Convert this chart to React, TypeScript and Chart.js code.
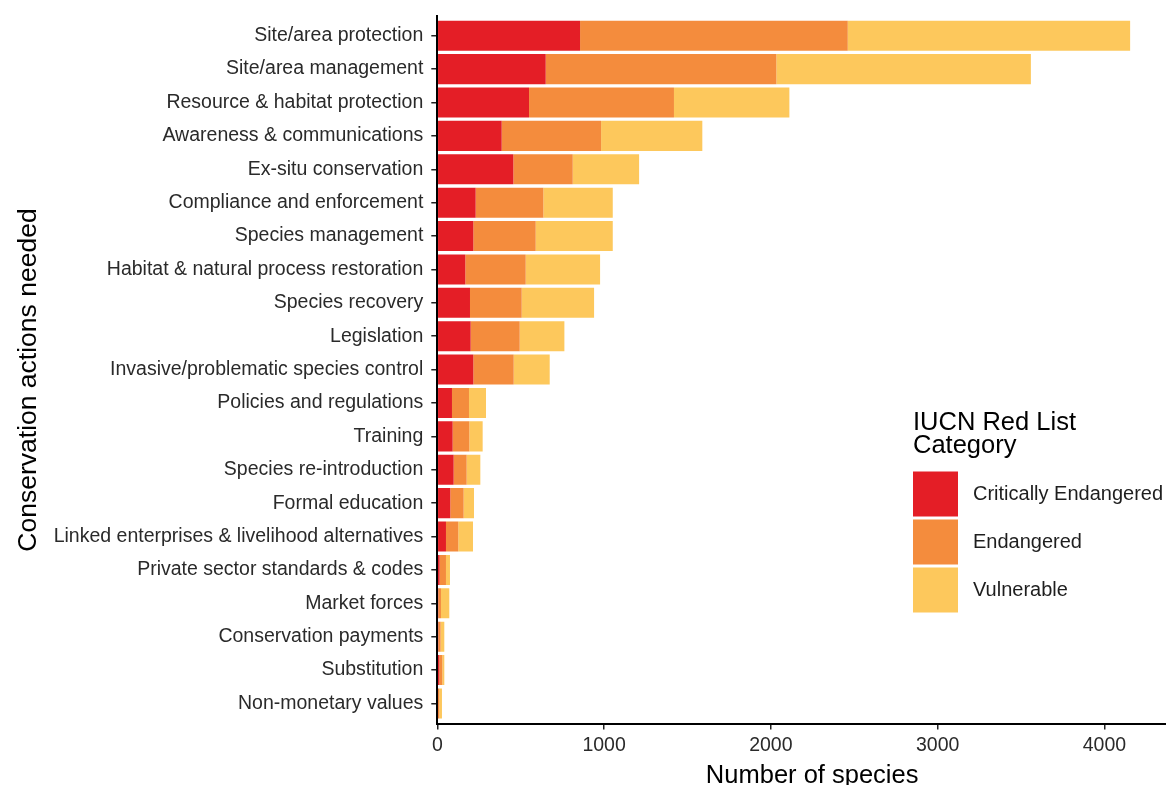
import React, { useEffect, useRef } from "react";
import { Chart, registerables } from "chart.js";

Chart.register(...registerables);

const categories = [
  "Site/area protection",
  "Site/area management",
  "Resource & habitat protection",
  "Awareness & communications",
  "Ex-situ conservation",
  "Compliance and enforcement",
  "Species management",
  "Habitat & natural process restoration",
  "Species recovery",
  "Legislation",
  "Invasive/problematic species control",
  "Policies and regulations",
  "Training",
  "Species re-introduction",
  "Formal education",
  "Linked enterprises & livelihood alternatives",
  "Private sector standards & codes",
  "Market forces",
  "Conservation payments",
  "Substitution",
  "Non-monetary values",
];

const criticallyEndangered = [856, 650, 550, 386, 456, 230, 216, 168, 196, 200, 216, 88, 92, 98, 78, 52, 14, 6, 6, 12, 4];
const endangered = [1605, 1383, 869, 596, 356, 406, 374, 362, 310, 294, 242, 102, 100, 78, 80, 74, 38, 16, 14, 18, 8];
const vulnerable = [1693, 1526, 692, 607, 398, 416, 462, 446, 434, 268, 216, 102, 80, 82, 62, 88, 24, 50, 22, 12, 16];

const seriesLabels = ["Critically Endangered", "Endangered", "Vulnerable"];
const seriesColors = ["#E41E26", "#F48C3D", "#FDC85C"];
const xTicks = [0, 1000, 2000, 3000, 4000];
const xMax = 4495;
const xAxisTitle = "Number of species";
const yAxisTitle = "Conservation actions needed";
const legendTitle = ["IUCN Red List", "Category"];

const FONT = '"Liberation Sans", Arial, Helvetica, sans-serif';

const legendPlugin = {
  id: "iucnLegend",
  afterDraw(chart: any) {
    const ctx = chart.ctx;
    ctx.save();
    // y-axis title
    ctx.save();
    ctx.translate(29, 380);
    ctx.rotate(-Math.PI / 2);
    ctx.fillStyle = "#000";
    ctx.font = `26.5px ${FONT}`;
    ctx.textAlign = "center";
    ctx.textBaseline = "middle";
    ctx.fillText(yAxisTitle, 0, 0);
    ctx.restore();
    // legend
    const x0 = 913;
    ctx.fillStyle = "#000";
    ctx.font = `25.5px ${FONT}`;
    ctx.textAlign = "left";
    ctx.textBaseline = "alphabetic";
    ctx.fillText(legendTitle[0], x0, 430);
    ctx.fillText(legendTitle[1], x0, 452.5);
    chart.data.datasets.forEach((ds: any, i: number) => {
      const y = 471.5 + i * 48;
      ctx.fillStyle = ds.backgroundColor;
      ctx.fillRect(x0, y, 45, 45);
      ctx.fillStyle = "#1e1e1e";
      ctx.font = `20px ${FONT}`;
      ctx.textBaseline = "middle";
      ctx.fillText(ds.label, 973, y + 23);
    });
    ctx.restore();
  },
};

export default function App() {
  const ref = useRef<HTMLCanvasElement | null>(null);

  useEffect(() => {
    if (!ref.current) return;
    const series = [criticallyEndangered, endangered, vulnerable];
    const chart = new Chart(ref.current, {
      type: "bar",
      data: {
        datasets: series.map((vals, si) => ({
          label: seriesLabels[si],
          data: vals.map((v, i) => ({ x: v, y: i })),
          backgroundColor: seriesColors[si],
          borderWidth: 0,
          barPercentage: 0.9,
          categoryPercentage: 1,
        })),
      },
      options: {
        indexAxis: "y",
        responsive: false,
        animation: false,
        layout: { padding: { top: 15.7, right: 3, left: 0, bottom: 0 } },
        plugins: { legend: { display: false }, tooltip: { enabled: false } },
        scales: {
          x: {
            type: "linear",
            position: "bottom",
            stacked: true,
            min: 0,
            max: xMax,
            offset: false,
            afterBuildTicks: (s: any) => {
              s.ticks = xTicks.map((v) => ({ value: v }));
            },
            afterFit: (s: any) => {
              s.height = 76.5;
              s.paddingLeft = 0;
              s.paddingRight = 0;
            },
            grid: {
              display: true,
              offset: false,
              drawOnChartArea: false,
              drawTicks: true,
              tickLength: 6,
              color: "#222",
              lineWidth: 1.5,
            },
            border: { display: true, color: "#000", width: 2 },
            ticks: {
              color: "#2a2a2a",
              font: { family: FONT, size: 19.5 },
              padding: 4,
              maxRotation: 0,
              autoSkip: false,
              callback: (v: any) => String(v),
            },
            title: {
              display: true,
              text: xAxisTitle,
              color: "#000",
              font: { family: FONT, size: 25.5 },
              padding: { top: 0, bottom: 9 },
            },
          },
          y: {
            type: "linear",
            stacked: true,
            reverse: true,
            offset: false,
            min: -0.6,
            max: categories.length - 0.4,
            afterBuildTicks: (s: any) => {
              s.ticks = categories.map((_, i) => ({ value: i }));
            },
            afterFit: (s: any) => {
              s.width = 437.3;
              s.paddingTop = 0;
              s.paddingBottom = 0;
            },
            grid: {
              display: true,
              offset: false,
              drawOnChartArea: false,
              drawTicks: true,
              tickLength: 6,
              color: "#222",
              lineWidth: 1.5,
            },
            border: { display: true, color: "#000", width: 2 },
            ticks: {
              color: "#2a2a2a",
              font: { family: FONT, size: 19.5 },
              padding: 8,
              autoSkip: false,
              callback: (v: any) => categories[v as number] ?? "",
            },
            title: { display: false },
          },
        },
      } as any,
      plugins: [legendPlugin],
    });
    return () => chart.destroy();
  }, []);

  return (
    <div
      style={{
        position: "absolute",
        left: 0,
        top: 0,
        width: 1166,
        height: 785,
        overflow: "hidden",
        background: "#fff",
      }}
    >
      <canvas ref={ref} width={1190} height={800} style={{ display: "block" }} />
    </div>
  );
}
